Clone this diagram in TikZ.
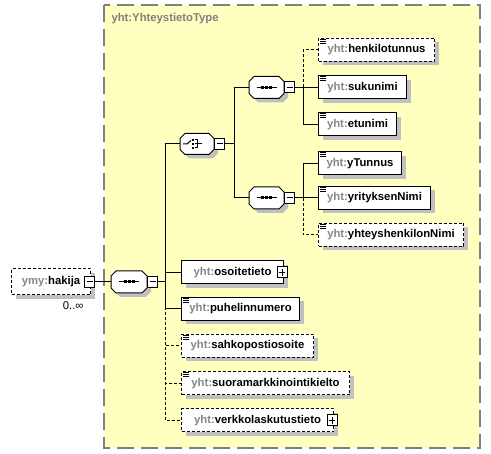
\documentclass[tikz,border=0pt]{standalone}
\usepackage{fontspec}
\setmainfont{Liberation Sans}
\usetikzlibrary{shadows}
\definecolor{bgyellow}{HTML}{FFFFC0}
\definecolor{edgegray}{HTML}{808080}
\definecolor{shadegray}{HTML}{C0C0C0}
\definecolor{pfxgray}{HTML}{868686}
\newcommand{\nsp}[1]{\textcolor{pfxgray}{#1:}}
\tikzset{
  elem/.style={draw, fill=white, minimum height=23, inner sep=0pt, anchor=west,
    font=\fontsize{11.3}{13}\selectfont\bfseries,
    drop shadow={shadow xshift=4pt, shadow yshift=-4pt, fill=shadegray, opacity=1}},
  opt/.style={dash pattern=on 3pt off 2pt},
  comp/.style={minimum width=34, minimum height=21, inner sep=0pt, anchor=west},
  octa/.style={fill=white, line join=round,
    drop shadow={shadow xshift=4pt, shadow yshift=-4pt, fill=shadegray, opacity=1}},
  pmbox/.style={draw, fill=white, minimum width=10, minimum height=11, inner sep=0pt, solid},
  minusbox/.style={pmbox, path picture={
    \draw ([xshift=2pt]path picture bounding box.west) -- ([xshift=-2pt]path picture bounding box.east);}},
  plusbox/.style={pmbox, path picture={
    \draw ([xshift=2pt]path picture bounding box.west) -- ([xshift=-2pt]path picture bounding box.east);
    \draw ([yshift=-2pt]path picture bounding box.north) -- ([yshift=2pt]path picture bounding box.south);}}
}
\begin{document}
\begin{tikzpicture}[x=1pt, y=-1pt, line width=1pt]
\useasboundingbox (0,0) rectangle (491,454);
\draw[fill=bgyellow, draw=edgegray, line width=1.5pt, dash pattern=on 17pt off 7pt] (104,5) rectangle (480,448);
\node[anchor=west, inner sep=0pt, text=edgegray, font=\fontsize{11.3}{13}\selectfont\bfseries] (typename) at (111,19) {yht:YhteystietoType};
% hakija
\node[elem, opt, minimum width=79, minimum height=26] (hak) at (11,282) {\nsp{ymy}hakija};
\node[minusbox, xshift=-1.5pt] (hakm) at (hak.east) {};
\node[anchor=north east, inner sep=0pt, xshift=-7pt, yshift=-6pt, font=\fontsize{11.3}{13}\selectfont] (hakocc) at (hak.south east) {0..∞};
% sequences and choice
\foreach \n/\x/\y/\w/\h in {seq0/111/282/35/21, ch/180/144/33/20, seq1/249/87.5/34/21, seq2/249/198/34/21} {
  \node[comp, minimum width=\w, minimum height=\h] (\n) at (\x,\y) {};
  \draw[octa] ([xshift=5pt]\n.north west) -- ([xshift=-5pt]\n.north east) -- ([yshift=-5pt]\n.north east)
    -- ([yshift=5pt]\n.south east) -- ([xshift=-5pt]\n.south east) -- ([xshift=5pt]\n.south west)
    -- ([yshift=5pt]\n.south west) -- ([yshift=-5pt]\n.north west) -- cycle;
  \node[minusbox, anchor=west] (\n m) at (\n.east) {};
}
\foreach \n in {seq0,seq1,seq2} {
  \draw[shift={(\n.center)}] (-10,0) -- (10,0);
  \foreach \d in {-4,0,4}
    \fill[shift={(\n.center)}] (\d-1.5,-1.5) rectangle (\d+1.5,1.5);
}
\begin{scope}[shift={(ch.center)}]
  \draw (-14,0) -- (-10,0) -- (-6,-3.5);
  \foreach \d in {-4,0,4}
    \fill (-5.5,\d-1) rectangle (-3.5,\d+1);
  \draw (-2.5,-4) -- (0.5,-4) -- (0.5,4) -- (-2.5,4) (-2.5,0) -- (4.5,0);
\end{scope}
% elements with simple content
\foreach \n/\x/\y/\w/\t in {suku/318/87.5/88/sukunimi, etu/318/124.5/78/etunimi,
    ytun/318/163.5/83/yTunnus, yrit/318/198/112/yrityksenNimi, puh/181/309/118/puhelinnumero}
  \node[elem, minimum width=\w] (\n) at (\x,\y) {\nsp{yht}\t};
\foreach \n/\x/\y/\w/\t in {henk/318/50/116/henkilotunnus, yhte/318/235/145/yhteyshenkilonNimi,
    sah/181/346/132/sahkopostiosoite, suor/181/383.5/168/suoramarkkinointikielto}
  \node[elem, opt, minimum width=\w] (\n) at (\x,\y) {\nsp{yht}\t};
\foreach \n in {suku,etu,ytun,yrit,puh,henk,yhte,sah,suor}
  \draw[shift={(\n.north west)}] (2,1.5) -- ++(6,0) (2,3.5) -- ++(6,0) (2,5.5) -- ++(6,0);
% elements with complex content
\node[elem, minimum width=102] (oso) at (181,272.5) {\nsp{yht}osoitetieto\hspace{9pt}};
\node[plusbox, xshift=-2pt] (osom) at (oso.east) {};
\node[elem, opt, minimum width=152] (verk) at (181,420.5) {\nsp{yht}verkkolaskutustieto\hspace{9pt}};
\node[plusbox, xshift=-2pt] (verkm) at (verk.east) {};
% connectors
\coordinate (bus0) at (165,282);
\coordinate (bus1) at (234,144);
\coordinate (bus2) at (303,87.5);
\coordinate (bus3) at (303,198);
\draw (hakm.east) -- (seq0.west);
\draw (seq0m.east) -- (bus0);
\foreach \n in {ch,oso,puh}
  \draw (bus0) |- (\n.west);
\foreach \n in {sah,suor,verk}
  \draw[opt] (bus0) |- (\n.west);
\draw (chm.east) -- (bus1);
\draw (bus1) |- (seq1.west);
\draw (bus1) |- (seq2.west);
\draw (seq1m.east) -- (suku.west);
\draw[opt] (bus2) |- (henk.west);
\draw (bus2) |- (etu.west);
\draw (seq2m.east) -- (yrit.west);
\draw (bus3) |- (ytun.west);
\draw[opt] (bus3) |- (yhte.west);
\end{tikzpicture}
\end{document}
